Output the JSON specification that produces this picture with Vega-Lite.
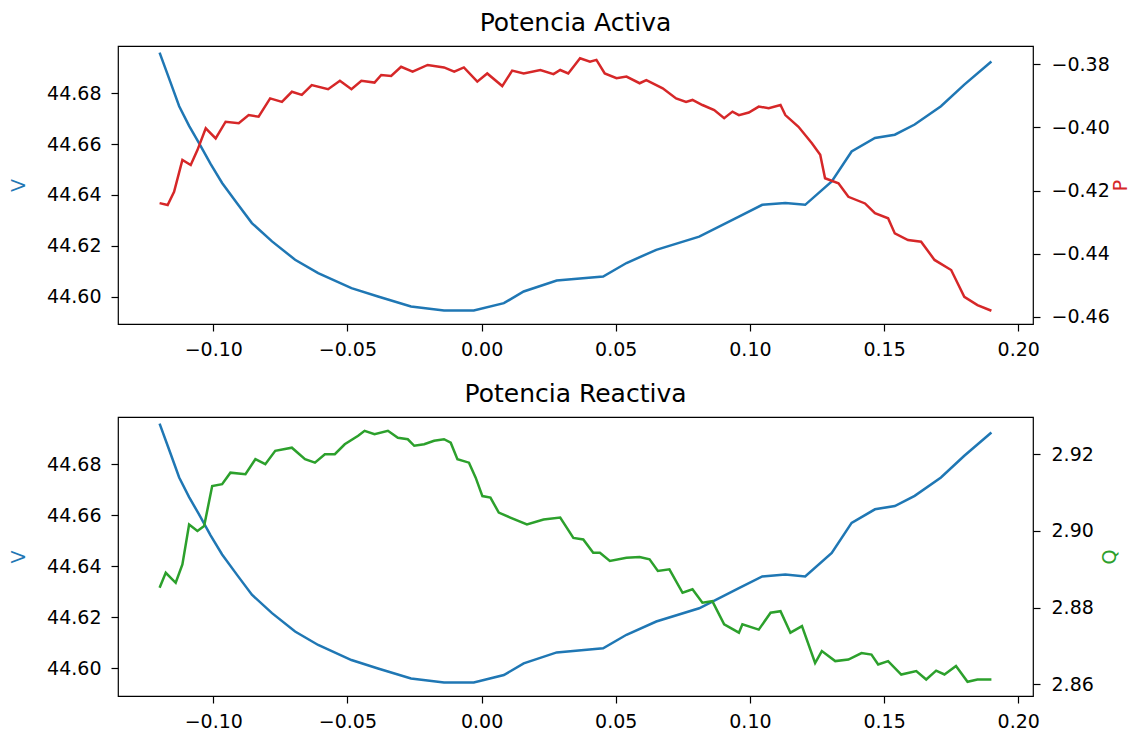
{
  "$schema": "https://vega.github.io/schema/vega-lite/v6.json",
  "padding": {"left": 9, "top": 10, "right": 0, "bottom": 3},
  "background": "white",
  "spacing": 21,
  "config": {
    "font": "DejaVu Sans",
    "view": {"stroke": "black", "strokeWidth": 1.2},
    "axis": {"domain": false, "grid": false, "tickColor": "black", "tickWidth": 1.2, "tickSize": 7, "labelFontSize": 19, "labelColor": "black", "labelPadding": 10, "titleFontSize": 19, "titleFontWeight": "normal", "labelFont": "DejaVu Sans", "titleFont": "DejaVu Sans"},
    "axisX": {"labelPadding": 9},
    "title": {"fontSize": 25, "fontWeight": "normal", "color": "black", "offset": 10, "font": "DejaVu Sans"}
  },
  "datasets": {
    "v": [
      {"x": -0.1200, "V": 44.6960}, {"x": -0.1160, "V": 44.6845}, {"x": -0.1127, "V": 44.6749}, {"x": -0.1090, "V": 44.6672},
      {"x": -0.1053, "V": 44.6604}, {"x": -0.1010, "V": 44.6522}, {"x": -0.0967, "V": 44.6447}, {"x": -0.0910, "V": 44.6365},
      {"x": -0.0856, "V": 44.6289}, {"x": -0.0781, "V": 44.6217}, {"x": -0.0695, "V": 44.6145}, {"x": -0.0609, "V": 44.6092},
      {"x": -0.0485, "V": 44.6033}, {"x": -0.0386, "V": 44.6000}, {"x": -0.0263, "V": 44.5961}, {"x": -0.0140, "V": 44.5945},
      {"x": -0.0029, "V": 44.5945}, {"x": 0.0083, "V": 44.5974}, {"x": 0.0157, "V": 44.6020}, {"x": 0.0280, "V": 44.6063},
      {"x": 0.0453, "V": 44.6079}, {"x": 0.0540, "V": 44.6132}, {"x": 0.0651, "V": 44.6184}, {"x": 0.0811, "V": 44.6236},
      {"x": 0.0959, "V": 44.6315}, {"x": 0.1046, "V": 44.6361}, {"x": 0.1132, "V": 44.6368}, {"x": 0.1206, "V": 44.6361},
      {"x": 0.1305, "V": 44.6453}, {"x": 0.1379, "V": 44.6571}, {"x": 0.1466, "V": 44.6624}, {"x": 0.1540, "V": 44.6637},
      {"x": 0.1614, "V": 44.6677}, {"x": 0.1712, "V": 44.6749}, {"x": 0.1799, "V": 44.6834}, {"x": 0.1900, "V": 44.6925}
    ],
    "p": [
      {"x": -0.1200, "P": -0.4240}, {"x": -0.1170, "P": -0.4246}, {"x": -0.1146, "P": -0.4204}, {"x": -0.1115, "P": -0.4103},
      {"x": -0.1084, "P": -0.4119}, {"x": -0.1059, "P": -0.4072}, {"x": -0.1028, "P": -0.4003}, {"x": -0.0991, "P": -0.4035},
      {"x": -0.0954, "P": -0.3982}, {"x": -0.0905, "P": -0.3987}, {"x": -0.0868, "P": -0.3961}, {"x": -0.0831, "P": -0.3966},
      {"x": -0.0788, "P": -0.3908}, {"x": -0.0744, "P": -0.3919}, {"x": -0.0707, "P": -0.3887}, {"x": -0.0670, "P": -0.3897},
      {"x": -0.0633, "P": -0.3866}, {"x": -0.0572, "P": -0.3879}, {"x": -0.0528, "P": -0.3852}, {"x": -0.0485, "P": -0.3879},
      {"x": -0.0448, "P": -0.3852}, {"x": -0.0399, "P": -0.3858}, {"x": -0.0374, "P": -0.3834}, {"x": -0.0337, "P": -0.3837},
      {"x": -0.0300, "P": -0.3808}, {"x": -0.0257, "P": -0.3823}, {"x": -0.0201, "P": -0.3802}, {"x": -0.0140, "P": -0.3810},
      {"x": -0.0102, "P": -0.3823}, {"x": -0.0066, "P": -0.3810}, {"x": -0.0016, "P": -0.3855}, {"x": 0.0021, "P": -0.3829},
      {"x": 0.0077, "P": -0.3869}, {"x": 0.0114, "P": -0.3820}, {"x": 0.0157, "P": -0.3829}, {"x": 0.0219, "P": -0.3818},
      {"x": 0.0268, "P": -0.3831}, {"x": 0.0293, "P": -0.3818}, {"x": 0.0323, "P": -0.3829}, {"x": 0.0367, "P": -0.3781},
      {"x": 0.0404, "P": -0.3792}, {"x": 0.0428, "P": -0.3786}, {"x": 0.0459, "P": -0.3829}, {"x": 0.0503, "P": -0.3844},
      {"x": 0.0540, "P": -0.3839}, {"x": 0.0589, "P": -0.3860}, {"x": 0.0614, "P": -0.3850}, {"x": 0.0675, "P": -0.3876},
      {"x": 0.0725, "P": -0.3908}, {"x": 0.0762, "P": -0.3919}, {"x": 0.0786, "P": -0.3913}, {"x": 0.0823, "P": -0.3929},
      {"x": 0.0867, "P": -0.3945}, {"x": 0.0904, "P": -0.3971}, {"x": 0.0935, "P": -0.3950}, {"x": 0.0959, "P": -0.3961},
      {"x": 0.0996, "P": -0.3953}, {"x": 0.1033, "P": -0.3934}, {"x": 0.1070, "P": -0.3939}, {"x": 0.1114, "P": -0.3929},
      {"x": 0.1132, "P": -0.3961}, {"x": 0.1181, "P": -0.3998}, {"x": 0.1231, "P": -0.4050}, {"x": 0.1262, "P": -0.4087},
      {"x": 0.1280, "P": -0.4161}, {"x": 0.1330, "P": -0.4177}, {"x": 0.1367, "P": -0.4220}, {"x": 0.1429, "P": -0.4241},
      {"x": 0.1466, "P": -0.4272}, {"x": 0.1515, "P": -0.4288}, {"x": 0.1540, "P": -0.4336}, {"x": 0.1589, "P": -0.4357},
      {"x": 0.1638, "P": -0.4362}, {"x": 0.1688, "P": -0.4420}, {"x": 0.1750, "P": -0.4452}, {"x": 0.1799, "P": -0.4537},
      {"x": 0.1848, "P": -0.4563}, {"x": 0.1900, "P": -0.4581}
    ],
    "q": [
      {"x": -0.1200, "Q": 2.8852}, {"x": -0.1177, "Q": 2.8891}, {"x": -0.1140, "Q": 2.8865}, {"x": -0.1115, "Q": 2.8913},
      {"x": -0.1090, "Q": 2.9017}, {"x": -0.1059, "Q": 2.9000}, {"x": -0.1034, "Q": 2.9013}, {"x": -0.1004, "Q": 2.9117},
      {"x": -0.0967, "Q": 2.9122}, {"x": -0.0936, "Q": 2.9152}, {"x": -0.0880, "Q": 2.9148}, {"x": -0.0843, "Q": 2.9187},
      {"x": -0.0806, "Q": 2.9174}, {"x": -0.0769, "Q": 2.9209}, {"x": -0.0707, "Q": 2.9217}, {"x": -0.0658, "Q": 2.9187},
      {"x": -0.0621, "Q": 2.9178}, {"x": -0.0584, "Q": 2.9200}, {"x": -0.0547, "Q": 2.9200}, {"x": -0.0510, "Q": 2.9226},
      {"x": -0.0460, "Q": 2.9248}, {"x": -0.0436, "Q": 2.9261}, {"x": -0.0399, "Q": 2.9252}, {"x": -0.0349, "Q": 2.9261},
      {"x": -0.0312, "Q": 2.9243}, {"x": -0.0275, "Q": 2.9239}, {"x": -0.0251, "Q": 2.9222}, {"x": -0.0214, "Q": 2.9226},
      {"x": -0.0177, "Q": 2.9235}, {"x": -0.0140, "Q": 2.9239}, {"x": -0.0115, "Q": 2.9230}, {"x": -0.0090, "Q": 2.9187},
      {"x": -0.0047, "Q": 2.9178}, {"x": -0.0022, "Q": 2.9139}, {"x": 0.0003, "Q": 2.9091}, {"x": 0.0033, "Q": 2.9087},
      {"x": 0.0064, "Q": 2.9048}, {"x": 0.0107, "Q": 2.9035}, {"x": 0.0169, "Q": 2.9017}, {"x": 0.0231, "Q": 2.9030},
      {"x": 0.0293, "Q": 2.9035}, {"x": 0.0342, "Q": 2.8982}, {"x": 0.0379, "Q": 2.8978}, {"x": 0.0416, "Q": 2.8943},
      {"x": 0.0441, "Q": 2.8943}, {"x": 0.0478, "Q": 2.8922}, {"x": 0.0540, "Q": 2.8930}, {"x": 0.0589, "Q": 2.8932},
      {"x": 0.0626, "Q": 2.8926}, {"x": 0.0657, "Q": 2.8896}, {"x": 0.0700, "Q": 2.8900}, {"x": 0.0749, "Q": 2.8839},
      {"x": 0.0786, "Q": 2.8848}, {"x": 0.0823, "Q": 2.8813}, {"x": 0.0860, "Q": 2.8817}, {"x": 0.0904, "Q": 2.8757},
      {"x": 0.0959, "Q": 2.8735}, {"x": 0.0972, "Q": 2.8757}, {"x": 0.1033, "Q": 2.8743}, {"x": 0.1077, "Q": 2.8787},
      {"x": 0.1114, "Q": 2.8791}, {"x": 0.1151, "Q": 2.8735}, {"x": 0.1194, "Q": 2.8752}, {"x": 0.1243, "Q": 2.8656},
      {"x": 0.1268, "Q": 2.8687}, {"x": 0.1318, "Q": 2.8661}, {"x": 0.1367, "Q": 2.8665}, {"x": 0.1416, "Q": 2.8682},
      {"x": 0.1453, "Q": 2.8678}, {"x": 0.1478, "Q": 2.8652}, {"x": 0.1515, "Q": 2.8661}, {"x": 0.1564, "Q": 2.8626},
      {"x": 0.1620, "Q": 2.8635}, {"x": 0.1657, "Q": 2.8613}, {"x": 0.1694, "Q": 2.8636}, {"x": 0.1725, "Q": 2.8626},
      {"x": 0.1768, "Q": 2.8648}, {"x": 0.1811, "Q": 2.8607}, {"x": 0.1848, "Q": 2.8613}, {"x": 0.1900, "Q": 2.8613}
    ]
  },
  "vconcat": [
    {
      "title": "Potencia Activa",
      "width": 915,
      "height": 278,
      "layer": [
        {
          "data": {"name": "v"},
          "mark": {"type": "line", "color": "#1f77b4", "strokeWidth": 2.5},
          "encoding": {
            "x": {"field": "x", "type": "quantitative", "scale": {"domain": [-0.1355, 0.2055], "nice": false, "zero": false}, "axis": {"values": [-0.1, -0.05, 0, 0.05, 0.1, 0.15, 0.2], "format": ".2f", "title": null}},
            "y": {"field": "V", "type": "quantitative", "scale": {"domain": [44.5892, 44.6986], "nice": false, "zero": false}, "axis": {"orient": "left", "values": [44.6, 44.62, 44.64, 44.66, 44.68], "format": ".2f", "title": "V", "titleColor": "#1f77b4", "titlePadding": 18}}
          }
        },
        {
          "data": {"name": "p"},
          "mark": {"type": "line", "color": "#d62728", "strokeWidth": 2.5},
          "encoding": {
            "x": {"field": "x", "type": "quantitative", "scale": {"domain": [-0.1355, 0.2055], "nice": false, "zero": false}},
            "y": {"field": "P", "type": "quantitative", "scale": {"domain": [-0.4623, -0.3742], "nice": false, "zero": false}, "axis": {"orient": "right", "values": [-0.46, -0.44, -0.42, -0.4, -0.38], "format": ".2f", "labelPadding": 11, "title": "P", "titleColor": "#d62728", "titleAngle": 270, "titleBaseline": "top", "titlePadding": 2}}
          }
        }
      ],
      "resolve": {"scale": {"y": "independent"}}
    },
    {
      "title": "Potencia Reactiva",
      "width": 915,
      "height": 279,
      "layer": [
        {
          "data": {"name": "v"},
          "mark": {"type": "line", "color": "#1f77b4", "strokeWidth": 2.5},
          "encoding": {
            "x": {"field": "x", "type": "quantitative", "scale": {"domain": [-0.1355, 0.2055], "nice": false, "zero": false}, "axis": {"values": [-0.1, -0.05, 0, 0.05, 0.1, 0.15, 0.2], "format": ".2f", "title": null}},
            "y": {"field": "V", "type": "quantitative", "scale": {"domain": [44.5892, 44.6986], "nice": false, "zero": false}, "axis": {"orient": "left", "values": [44.6, 44.62, 44.64, 44.66, 44.68], "format": ".2f", "title": "V", "titleColor": "#1f77b4", "titlePadding": 18}}
          }
        },
        {
          "data": {"name": "q"},
          "mark": {"type": "line", "color": "#2ca02c", "strokeWidth": 2.5},
          "encoding": {
            "x": {"field": "x", "type": "quantitative", "scale": {"domain": [-0.1355, 0.2055], "nice": false, "zero": false}},
            "y": {"field": "Q", "type": "quantitative", "scale": {"domain": [2.857, 2.9297], "nice": false, "zero": false}, "axis": {"orient": "right", "values": [2.86, 2.88, 2.9, 2.92], "format": ".2f", "labelPadding": 11, "title": "Q", "titleColor": "#2ca02c", "titleAngle": 270, "titleBaseline": "top", "titlePadding": 7}}
          }
        }
      ],
      "resolve": {"scale": {"y": "independent"}}
    }
  ]
}
